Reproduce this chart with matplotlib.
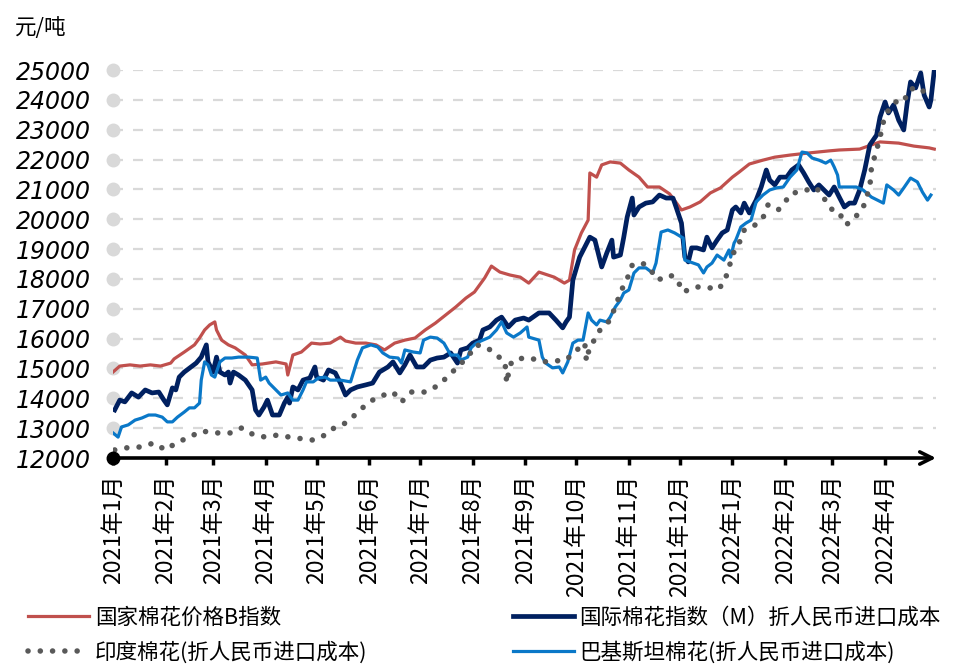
import matplotlib
matplotlib.use("Agg")
import matplotlib.pyplot as plt
import matplotlib.transforms as mtransforms
import pandas as pd

plt.rcParams['font.family'] = ['Noto Sans CJK SC', 'DejaVu Sans']

# ---------------- data ----------------
red_dates = ['2021-01-01','2021-01-05','2021-01-11','2021-01-17','2021-01-23','2021-01-29','2021-02-04','2021-02-06',
             '2021-02-12','2021-02-18','2021-02-21','2021-02-24','2021-02-27','2021-03-02','2021-03-03','2021-03-06',
             '2021-03-10','2021-03-14','2021-03-20','2021-03-24','2021-03-30','2021-04-07','2021-04-13','2021-04-14',
             '2021-04-17','2021-04-22','2021-04-28','2021-05-03','2021-05-09','2021-05-15','2021-05-18','2021-05-24',
             '2021-05-30','2021-06-05','2021-06-10','2021-06-16','2021-06-22','2021-06-28','2021-07-04','2021-07-10',
             '2021-07-16','2021-07-22','2021-07-28','2021-08-02','2021-08-08','2021-08-12','2021-08-17','2021-08-23',
             '2021-08-29','2021-09-03','2021-09-09','2021-09-18','2021-09-24','2021-09-27','2021-09-30','2021-10-04',
             '2021-10-08','2021-10-09','2021-10-13','2021-10-16','2021-10-21','2021-10-27','2021-11-01','2021-11-07',
             '2021-11-12','2021-11-19','2021-11-25','2021-11-29','2021-12-02','2021-12-07','2021-12-13','2021-12-19',
             '2021-12-25','2022-01-01','2022-01-05','2022-01-11','2022-01-19','2022-01-26','2022-02-04','2022-02-15',
             '2022-02-27','2022-03-05','2022-03-17','2022-03-29','2022-04-09','2022-04-18','2022-04-27','2022-04-30']
red_values = [14880,15080,15120,15080,15120,15080,15180,15320,
              15550,15790,16020,16290,16460,16560,16290,15950,
              15790,15690,15450,15120,15150,15220,15150,14780,
              15450,15550,15850,15820,15850,16050,15920,15850,
              15850,15790,15620,15850,15950,16020,16290,16520,
              16790,17060,17360,17560,18030,18430,18230,18130,
              18060,17860,18230,18060,17860,17960,18970,19540,
              19970,21550,21410,21820,21920,21880,21650,21410,
              21080,21080,20850,20550,20310,20410,20580,20880,
              21050,21410,21580,21850,21980,22080,22150,22220,
              22290,22320,22350,22590,22550,22450,22390,22350]

navy_dates = ['2021-01-02','2021-01-05','2021-01-08','2021-01-12','2021-01-16','2021-01-20','2021-01-24','2021-01-28',
              '2021-01-31','2021-02-02','2021-02-05','2021-02-07','2021-02-09','2021-02-12','2021-02-16','2021-02-19',
              '2021-02-22','2021-02-25','2021-02-26','2021-03-01','2021-03-03','2021-03-05','2021-03-08','2021-03-10',
              '2021-03-11','2021-03-13','2021-03-16','2021-03-20','2021-03-24','2021-03-26','2021-03-28','2021-03-31',
              '2021-04-02','2021-04-05','2021-04-09','2021-04-12','2021-04-14','2021-04-15','2021-04-17','2021-04-20',
              '2021-04-23','2021-04-27','2021-04-30','2021-05-01','2021-05-05','2021-05-08','2021-05-12','2021-05-15',
              '2021-05-18','2021-05-21','2021-05-25','2021-05-30','2021-06-03','2021-06-07','2021-06-12','2021-06-15',
              '2021-06-19','2021-06-22','2021-06-25','2021-06-29','2021-07-03','2021-07-07','2021-07-11','2021-07-15',
              '2021-07-19','2021-07-23','2021-07-25','2021-07-29','2021-08-01','2021-08-05','2021-08-07','2021-08-11',
              '2021-08-15','2021-08-18','2021-08-22','2021-08-26','2021-08-31','2021-09-03','2021-09-09','2021-09-15',
              '2021-09-19','2021-09-23','2021-09-25','2021-09-27','2021-09-29','2021-10-03','2021-10-09','2021-10-12',
              '2021-10-16','2021-10-19','2021-10-22','2021-10-23','2021-10-27','2021-10-29','2021-10-31','2021-11-03',
              '2021-11-04','2021-11-07','2021-11-11','2021-11-15','2021-11-19','2021-11-23','2021-11-27','2021-11-29',
              '2021-12-02','2021-12-04','2021-12-06','2021-12-08','2021-12-11','2021-12-15','2021-12-17','2021-12-20',
              '2021-12-23','2021-12-26','2021-12-29','2022-01-01','2022-01-03','2022-01-06','2022-01-08','2022-01-11',
              '2022-01-15','2022-01-18','2022-01-21','2022-01-23','2022-01-26','2022-01-29','2022-02-02','2022-02-05',
              '2022-02-09','2022-02-12','2022-02-15','2022-02-18','2022-02-21','2022-02-24','2022-02-27','2022-03-02',
              '2022-03-05','2022-03-08','2022-03-11','2022-03-14','2022-03-17','2022-03-20','2022-03-23','2022-03-27',
              '2022-03-29','2022-04-01','2022-04-03','2022-04-06','2022-04-09','2022-04-12','2022-04-14','2022-04-16',
              '2022-04-19','2022-04-22','2022-04-24','2022-04-27','2022-04-28','2022-04-30']
navy_values = [13610,13940,13880,14180,14040,14280,14180,14210,
               13940,13780,14350,14280,14710,14880,15050,15180,
               15380,15790,15220,14880,15380,14880,14780,14880,
               14510,14880,14780,14610,14280,13610,13440,13710,
               13940,13440,13440,13840,14040,13840,14380,14280,
               14610,14680,15050,14710,14610,14950,14850,14510,
               14110,14280,14380,14450,14510,14880,15050,15220,
               14850,15120,15450,15050,15050,15280,15350,15380,
               15520,15180,15620,15690,15850,15950,16290,16390,
               16620,16720,16390,16620,16690,16620,16860,16860,
               16620,16360,16560,16720,17960,18730,19400,19300,
               18400,18870,19300,18730,18800,19400,20070,20710,
               20140,20410,20540,20580,20810,20710,20710,20380,
               19870,18730,18570,19040,19040,18970,19400,19040,
               19300,19540,19640,20310,20410,20210,20540,20210,
               20640,21080,21650,21310,21150,21410,21410,21650,
               21820,21550,21250,20980,21150,20980,20810,21080,
               20740,20410,20540,20540,20980,21650,22490,22820,
               23420,23930,23560,23830,23320,22990,23890,24600,
               24400,24900,24160,23760,23990,25000]

pak_dates = ['2021-01-01','2021-01-04','2021-01-06','2021-01-10','2021-01-14','2021-01-18','2021-01-22','2021-01-26',
             '2021-01-30','2021-02-02','2021-02-05','2021-02-08','2021-02-12','2021-02-15','2021-02-18','2021-02-21',
             '2021-02-22','2021-02-24','2021-02-26','2021-02-28','2021-03-02','2021-03-05','2021-03-08','2021-03-12',
             '2021-03-16','2021-03-22','2021-03-27','2021-03-29','2021-04-01','2021-04-03','2021-04-07','2021-04-10',
             '2021-04-14','2021-04-17','2021-04-20','2021-04-23','2021-04-25','2021-04-29','2021-05-02','2021-05-06',
             '2021-05-09','2021-05-15','2021-05-21','2021-05-25','2021-05-28','2021-06-02','2021-06-06','2021-06-09',
             '2021-06-13','2021-06-18','2021-06-20','2021-06-22','2021-06-27','2021-07-01','2021-07-03','2021-07-07',
             '2021-07-11','2021-07-15','2021-07-19','2021-07-23','2021-07-25','2021-07-29','2021-07-31','2021-08-03',
             '2021-08-07','2021-08-11','2021-08-15','2021-08-18','2021-08-21','2021-08-25','2021-08-29','2021-09-02',
             '2021-09-03','2021-09-09','2021-09-11','2021-09-13','2021-09-17','2021-09-21','2021-09-23','2021-09-26',
             '2021-09-29','2021-10-02','2021-10-05','2021-10-08','2021-10-10','2021-10-13','2021-10-15','2021-10-19',
             '2021-10-21','2021-10-24','2021-10-27','2021-10-29','2021-11-01','2021-11-04','2021-11-07','2021-11-11',
             '2021-11-15','2021-11-17','2021-11-20','2021-11-24','2021-11-28','2021-12-03','2021-12-04','2021-12-09',
             '2021-12-12','2021-12-15','2021-12-17','2021-12-20','2021-12-23','2021-12-27','2021-12-30','2021-12-31',
             '2022-01-02','2022-01-03','2022-01-06','2022-01-09','2022-01-12','2022-01-15','2022-01-19','2022-01-23',
             '2022-01-27','2022-01-31','2022-02-04','2022-02-08','2022-02-11','2022-02-14','2022-02-17','2022-02-21',
             '2022-02-25','2022-02-28','2022-03-02','2022-03-04','2022-03-05','2022-03-09','2022-03-15','2022-03-19',
             '2022-03-24','2022-03-31','2022-04-02','2022-04-06','2022-04-09','2022-04-12','2022-04-16','2022-04-20',
             '2022-04-23','2022-04-26','2022-04-28']
pak_values = [12840,12700,13040,13110,13270,13340,13440,13440,
              13370,13210,13210,13370,13540,13680,13680,13840,
              14610,15220,15120,14780,14710,15220,15350,15350,
              15380,15380,15350,14610,14710,14510,14280,14110,
              14180,13940,13940,14280,14550,14550,14680,14710,
              14610,14610,14550,15280,15690,15790,15720,15520,
              15380,15350,15180,15620,15550,15520,15950,16050,
              16020,15850,15450,15450,15280,15380,15690,15850,
              15950,16050,16290,16560,16190,16050,16190,16390,
              16050,15950,15380,15180,15020,15050,14850,15220,
              15850,15950,15950,16860,16620,16460,16620,16560,
              16720,17060,17290,17530,17630,18200,18370,18370,
              18200,18530,19570,19640,19540,19370,18630,18530,
              18470,18200,18400,18530,18800,18630,18970,18730,
              19200,19300,19740,19870,19970,20580,20810,20980,
              21050,21080,21410,21650,22250,22220,22050,21980,
              21880,21980,21750,21480,21080,21080,21080,20980,
              20740,20540,21150,20980,20810,21050,21380,21250,
              20910,20640,20810]

india_dates = ['2021-01-02','2021-01-09','2021-01-17','2021-01-25','2021-02-01','2021-02-07','2021-02-15','2021-02-22',
               '2021-02-27','2021-03-03','2021-03-11','2021-03-18','2021-03-25','2021-04-01','2021-04-08','2021-04-15',
               '2021-04-23','2021-04-29','2021-05-06','2021-05-12','2021-05-18','2021-05-25','2021-05-31','2021-06-06',
               '2021-06-15','2021-06-20','2021-06-26','2021-07-04','2021-07-11','2021-07-17','2021-07-23','2021-07-29',
               '2021-08-03','2021-08-09','2021-08-15','2021-08-20','2021-08-21','2021-08-23','2021-08-25','2021-08-31',
               '2021-09-04','2021-09-11','2021-09-18','2021-09-25','2021-10-01','2021-10-04','2021-10-06','2021-10-07',
               '2021-10-09','2021-10-13','2021-10-15','2021-10-21','2021-10-25','2021-10-29','2021-11-01','2021-11-03',
               '2021-11-09','2021-11-13','2021-11-18','2021-11-25','2021-11-29','2021-12-03','2021-12-10','2021-12-17',
               '2021-12-23','2021-12-27','2021-12-30','2022-01-01','2022-01-05','2022-01-08','2022-01-13','2022-01-19',
               '2022-01-22','2022-01-28','2022-02-01','2022-02-05','2022-02-11','2022-02-18','2022-02-23','2022-02-25',
               '2022-03-02','2022-03-05','2022-03-09','2022-03-14','2022-03-19','2022-03-23','2022-03-24','2022-03-27',
               '2022-03-29','2022-03-31','2022-04-03','2022-04-07','2022-04-12','2022-04-15','2022-04-20','2022-04-25',
               '2022-04-29']
india_values = [12270,12340,12370,12500,12270,12500,12700,12900,
                12870,12840,12840,13010,12770,12700,12770,12700,
                12640,12600,12770,13040,13170,13510,13840,14040,
                14210,13880,14210,14210,14410,14710,15050,15380,
                15790,15720,15450,15220,14510,15120,15280,15350,
                15350,15220,15250,15280,15620,15700,15850,15250,
                15750,16050,16290,16620,17230,17800,18130,18470,
                18530,18370,17960,18130,18030,17560,17730,17730,
                17630,17860,18370,18800,19200,19640,19740,20040,
                20480,20310,20580,20880,20910,21080,20880,20580,
                20240,20210,19810,20040,20380,21080,21750,22320,
                22750,23260,23660,23930,23930,24330,24430,24230,
                24160]

series_names = ['国家棉花价格B指数', '国际棉花指数（M）折人民币进口成本',
                '印度棉花(折人民币进口成本)', '巴基斯坦棉花(折人民币进口成本)']
month_ticks = pd.date_range('2021-01-01', '2022-04-01', freq='MS')
month_labels = [f'{d.year}年{d.month}月' for d in month_ticks]
y_ticks = list(range(12000, 25001, 1000))
unit_label = '元/吨'

# ---------------- figure ----------------
fig = plt.figure(figsize=(9.54, 6.65), dpi=100)
ax = fig.add_axes([113/954, (665-458)/665, (936-113)/954, (458-70)/665])

def ts(lst):
    return pd.to_datetime(lst)

red_c, navy_c, pak_c, india_c = '#C0504D', '#002060', '#0A78C8', '#595959'

l_red, = ax.plot(ts(red_dates), red_values, color=red_c, lw=2.3, zorder=3)
l_navy, = ax.plot(ts(navy_dates), navy_values, color=navy_c, lw=3.4, zorder=4)
l_pak, = ax.plot(ts(pak_dates), pak_values, color=pak_c, lw=2.3, zorder=5)
l_india, = ax.plot(ts(india_dates), india_values, color=india_c, lw=4.0,
                   linestyle=(0, (0.01, 2.2)), dash_capstyle='round', zorder=6)

ax.set_xlim(pd.Timestamp('2021-01-01'), pd.Timestamp('2022-05-01'))
ax.set_ylim(12000, 25000)

# gridlines
for v in y_ticks[1:]:
    ax.axhline(v, color='#D9D9D9', lw=1.6, dashes=(4.5, 4.5), zorder=1)

for s in ax.spines.values():
    s.set_visible(False)

ax.set_yticks(y_ticks)
ax.set_yticklabels([str(v) for v in y_ticks], fontsize=17, fontstyle='italic',
                   family=['DejaVu Sans'])
ax.tick_params(axis='y', length=0, pad=16)

ax.set_xticks(month_ticks)
ax.set_xticklabels(month_labels, rotation=90, fontsize=16.5, va='top', ha='center')
ax.tick_params(axis='x', length=5, width=2.5, color='black', pad=7, direction='out')

# y tick circle markers
trans = mtransforms.blended_transform_factory(ax.transAxes, ax.transData)
ax.plot([0]*len(y_ticks[1:]), y_ticks[1:], 'o', color='#D9D9D9', ms=9,
        transform=trans, clip_on=False, zorder=2)

# x axis with arrow
ax.annotate('', xy=(1.0, 0), xytext=(0, 0), xycoords='axes fraction',
            arrowprops=dict(arrowstyle='->', lw=2.6, color='black',
                            shrinkA=0, shrinkB=0, mutation_scale=22), zorder=7)
ax.plot([0], [0], 'o', color='black', ms=9, transform=ax.transAxes,
        clip_on=False, zorder=8)

fig.text(15/954, (665-28)/665, unit_label, fontsize=15.5, ha='left', va='center')

leg = fig.legend([l_red, l_india, l_navy, l_pak],
                 [series_names[0], series_names[2], series_names[1], series_names[3]],
                 ncol=2, loc='upper left', bbox_to_anchor=(28/954, (665-607)/665),
                 frameon=False, fontsize=15.5, handlelength=2.85, handletextpad=0.25,
                 columnspacing=6.75, borderpad=0, borderaxespad=0, labelspacing=0.55)

fig.savefig('out.png', dpi=100)
